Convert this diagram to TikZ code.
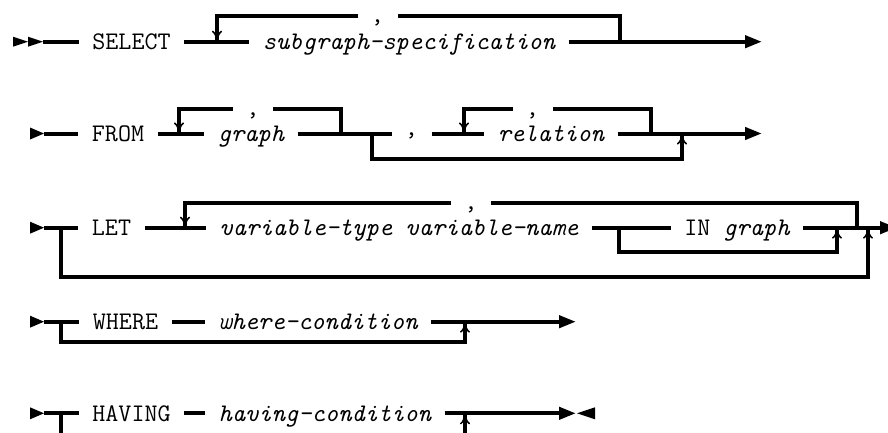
\documentclass[tikz,border=0pt]{standalone}
\usetikzlibrary{arrows.meta}
\begin{document}
\begin{tikzpicture}[x=1pt,y=-1pt,
  rail/.style={line width=4pt},
  tok/.style={inner xsep=13.28pt, inner ysep=0pt, text height=19pt, text depth=3.6pt,
    font=\fontsize{25.3}{30}\selectfont\ttfamily},
  var/.style={tok, font=\fontsize{25.3}{30}\selectfont\ttfamily\itshape},
  sepc/.style={tok, text height=5pt, text depth=2pt},
  septop/.style={tok, text height=15pt, text depth=2pt},
  loopin/.style={rail, -{Computer Modern Rightarrow[length=11pt,width=10pt,line width=1.5pt]}},
  exitline/.style={rail, -{Triangle[length=17pt,width=12pt]}},
  startmark/.style={fill=black},
]
\useasboundingbox (0,0) rectangle (888,432);

% ---------- SELECT ----------
\coordinate (s1) at (43,41.7);
\node[tok] (sel) at (131.5,41.7) {SELECT};
\node[var] (sub) at (409,41.7) {subgraph-specification};
\node[septop] (c1) at (377.5,16) {,};
\coordinate (l1) at (217,41.7);
\coordinate (r1) at (620,41.7);
\coordinate (e1) at (762,41.7);
\fill[startmark] (s1) -- ++(-15,5) -- ++(0,-10) -- cycle;
\fill[startmark] (s1) ++(-15,0) -- ++(-15,5) -- ++(0,-10) -- cycle;
\draw[rail] (s1) -- (sel.west);
\draw[rail] (sel.east) -- (sub.west);
\draw[exitline] (sub.east) -- (e1);
\draw[rail] (r1) |- (c1.east);
\draw[loopin] (c1.west) -| (l1);

% ---------- FROM ----------
\coordinate (s2) at (44,133.5);
\node[tok] (from) at (118,133.5) {FROM};
\node[var] (gr) at (251,133.5) {graph};
\node[septop] (c21) at (253,109.3) {,};
\node[sepc] (cm2) at (411.5,133.5) {,};
\node[var] (rel) at (551,133.5) {relation};
\node[septop] (c22) at (532.5,109.3) {,};
\coordinate (l21) at (179,133.5);
\coordinate (r21) at (341,133.5);
\coordinate (l22) at (464,133.5);
\coordinate (r22) at (651,133.5);
\coordinate (b2a) at (372,133.5);
\coordinate (b2b) at (682,159.3);
\coordinate (b2c) at (682,133.5);
\coordinate (e2) at (762,133.5);
\fill[startmark] (s2) -- ++(-14,6) -- ++(0,-12) -- cycle;
\draw[rail] (s2) -- (from.west);
\draw[rail] (from.east) -- (gr.west);
\draw[rail] (gr.east) -- (cm2.west);
\draw[rail] (cm2.east) -- (rel.west);
\draw[exitline] (rel.east) -- (e2);
\draw[rail] (r21) |- (c21.east);
\draw[loopin] (c21.west) -| (l21);
\draw[rail] (r22) |- (c22.east);
\draw[loopin] (c22.west) -| (l22);
\draw[loopin] (b2a) |- (b2b) -- (b2c);

% ---------- LET ----------
\coordinate (s3) at (44,227.7);
\node[tok] (let) at (111.5,227.7) {LET};
\node[var] (vn) at (399,227.7) {variable-type variable-name};
\node[septop] (c3) at (471,202.7) {,};
\node[tok] (ig) at (737,227.7) {IN {\itshape graph}};
\coordinate (l3) at (185,227.7);
\coordinate (r3) at (857,227.7);
\coordinate (b3a) at (619,227.7);
\coordinate (b3b) at (837,251.7);
\coordinate (b3c) at (837,227.7);
\coordinate (o3a) at (60.7,227.7);
\coordinate (o3b) at (868,276.7);
\coordinate (o3c) at (868,227.7);
\coordinate (e3) at (897,227.7);
\fill[startmark] (s3) -- ++(-14,6) -- ++(0,-12) -- cycle;
\draw[rail] (s3) -- (let.west);
\draw[rail] (let.east) -- (vn.west);
\draw[rail] (vn.east) -- (ig.west);
\draw[exitline] (ig.east) -- (e3);
\draw[rail] (r3) |- (c3.east);
\draw[loopin] (c3.west) -| (l3);
\draw[loopin] (b3a) |- (b3b) -- (b3c);
\draw[loopin] (o3a) |- (o3b) -- (o3c);

% ---------- WHERE ----------
\coordinate (s4) at (44,321.7);
\node[tok] (wh) at (125.5,321.7) {WHERE};
\node[var] (wc) at (318,321.7) {where-condition};
\coordinate (o4a) at (60.7,321.7);
\coordinate (o4b) at (465,342.3);
\coordinate (o4c) at (465,321.7);
\coordinate (e4) at (576,321.7);
\fill[startmark] (s4) -- ++(-14,6) -- ++(0,-12) -- cycle;
\draw[rail] (s4) -- (wh.west);
\draw[rail] (wh.east) -- (wc.west);
\draw[exitline] (wc.east) -- (e4);
\draw[loopin] (o4a) |- (o4b) -- (o4c);

% ---------- HAVING (bypass runs just below the page edge) ----------
\coordinate (s5) at (44,413.3);
\node[tok] (hv) at (131.5,413.3) {HAVING};
\node[var] (hc) at (325,413.3) {having-condition};
\coordinate (o5a) at (60.7,413.3);
\coordinate (o5b) at (465,440);
\coordinate (o5c) at (465,413.3);
\coordinate (e5) at (576,413.3);
\fill[startmark] (s5) -- ++(-14,6) -- ++(0,-12) -- cycle;
\draw[rail] (s5) -- (hv.west);
\draw[rail] (hv.east) -- (hc.west);
\draw[exitline] (hc.east) -- (e5);
\fill[startmark] (e5) ++(1,0) -- ++(18,6) -- ++(0,-12) -- cycle;
\draw[loopin] (o5a) |- (o5b) -- (o5c);
\end{tikzpicture}
\end{document}
